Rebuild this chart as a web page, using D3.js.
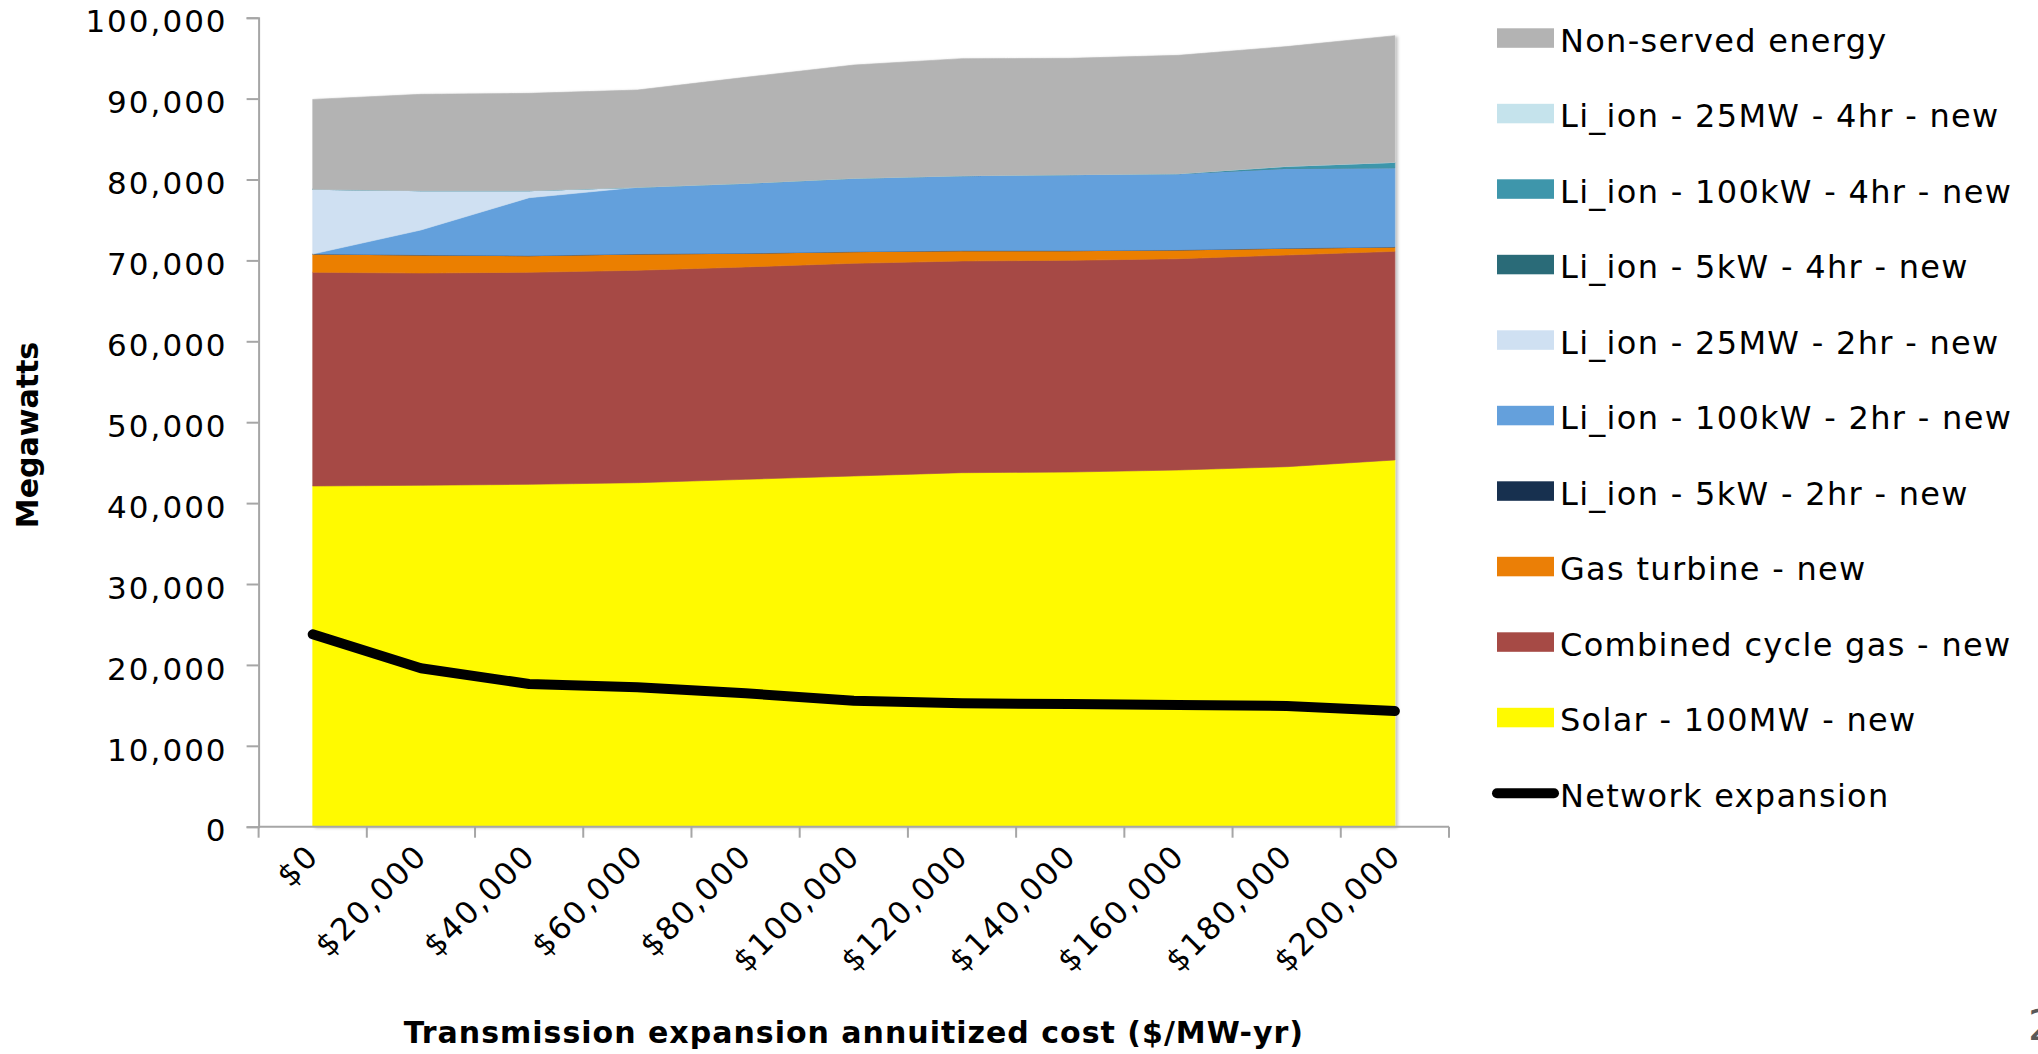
<!DOCTYPE html>
<html>
<head>
<meta charset="utf-8">
<script src="https://cdn.jsdelivr.net/npm/d3@7"></script>
<style>
  html, body { margin: 0; padding: 0; background: #ffffff; }
  svg { display: block; }
  text { font-family: "DejaVu Sans", sans-serif; fill: #000; }
</style>
</head>
<body>
<svg id="chart" width="2038" height="1054"></svg>
<script>
// ---------------- data ----------------
const categories = ["$0", "$20,000", "$40,000", "$60,000", "$80,000", "$100,000",
                    "$120,000", "$140,000", "$160,000", "$180,000", "$200,000"];
const yTicks = [0, 10000, 20000, 30000, 40000, 50000, 60000, 70000, 80000, 90000, 100000];

const solar100MW   = [42110, 42200, 42320, 42520, 42940, 43350, 43760, 43840, 44090, 44500, 45330];
const combinedCycle = [26420, 26240, 26210, 26260, 26250, 26290, 26170, 26170, 26120, 26170, 25790];
const gasTurbine   = [2260, 2230, 2050, 2010, 1690, 1440, 1270, 1190, 1080, 830, 540];
const li5kW2hr     = [0, 0, 0, 0, 0, 0, 0, 0, 0, 0, 0];
const li100kW2hr   = [0, 3090, 7170, 8250, 8650, 9070, 9270, 9400, 9430, 9880, 9800];
const li25MW2hr    = [8000, 4860, 870, 0, 0, 0, 0, 0, 0, 0, 0];
const li5kW4hr     = [0, 0, 0, 0, 0, 0, 0, 0, 0, 0, 0];
const li100kW4hr   = [0, 0, 0, 0, 0, 0, 0, 0, 0, 250, 660];
const li25MW4hr    = [0, 0, 0, 0, 0, 0, 0, 0, 0, 0, 0];
const nonServed    = [11110, 11910, 12030, 12020, 13100, 14000, 14470, 14380, 14630, 14800, 15660];
const networkExpansion = [23780, 19580, 17640, 17230, 16490, 15580, 15250, 15170, 15040, 14920, 14300];

// series definitions (stack order bottom -> top)
const seriesNames = ["Solar - 100MW - new", "Combined cycle gas - new", "Gas turbine - new",
  "Li_ion - 5kW - 2hr - new", "Li_ion - 100kW - 2hr - new", "Li_ion - 25MW - 2hr - new",
  "Li_ion - 5kW - 4hr - new", "Li_ion - 100kW - 4hr - new", "Li_ion - 25MW - 4hr - new",
  "Non-served energy"];
const seriesValues = [solar100MW, combinedCycle, gasTurbine, li5kW2hr, li100kW2hr, li25MW2hr,
  li5kW4hr, li100kW4hr, li25MW4hr, nonServed];
const seriesColors = ["#fffa00", "#a64a45", "#eb7f06", "#17304f", "#64a0dc", "#cfe0f2",
  "#2a6b78", "#3e96ab", "#c5e3ec", "#b3b3b3"];
const lineName = "Network expansion";

// ---------------- layout ----------------
const svg = d3.select("#chart");
svg.append("rect").attr("width", 2038).attr("height", 1054).attr("fill", "#fff");

const plot = { left: 258.6, right: 1449, top: 17.7, bottom: 826.7 };

const x = d3.scaleBand().domain(categories).range([plot.left, plot.right]).padding(0);
const xc = c => x(c) + x.bandwidth() / 2;
const y = d3.scaleLinear().domain([0, 100000]).range([plot.bottom, plot.top]);

const rows = categories.map((c, i) => {
  const r = { cat: c };
  seriesNames.forEach((n, k) => { r[n] = seriesValues[k][i]; });
  return r;
});
const stacked = d3.stack().keys(seriesNames)(rows);

// shadow filter
const defs = svg.append("defs");
const f = defs.append("filter").attr("id", "shadow").attr("x", "-5%").attr("y", "-5%")
  .attr("width", "110%").attr("height", "110%");
f.append("feDropShadow").attr("dx", 2.5).attr("dy", 1).attr("stdDeviation", 1.5)
  .attr("flood-color", "#000").attr("flood-opacity", 0.25);

const area = d3.area()
  .x(d => xc(d.data.cat))
  .y0(d => y(d[0]))
  .y1(d => y(d[1]));

const gArea = svg.append("g").attr("filter", "url(#shadow)");
gArea.selectAll("path").data(stacked).join("path")
  .attr("d", area)
  .attr("fill", (d, i) => seriesColors[i])
  .attr("stroke", (d, i) => seriesColors[i])
  .attr("stroke-width", 0.6);

// ---------------- axes ----------------
const axisColor = "#a6a6a6";
const gy = svg.append("g").attr("transform", `translate(${plot.left},0)`)
  .call(d3.axisLeft(y).tickValues(yTicks).tickSize(12).tickPadding(21).tickFormat(d3.format(",")));
gy.select(".domain").attr("stroke", axisColor).attr("stroke-width", 2);
gy.selectAll(".tick line").attr("stroke", axisColor).attr("stroke-width", 2);
gy.selectAll(".tick text")
  .attr("font-family", "DejaVu Sans").attr("font-size", 31).attr("letter-spacing", "2px")
  .attr("fill", "#000").attr("dy", "0.46em").attr("dx", 2);

// x axis line and boundary ticks
const gx = svg.append("g");
gx.append("line").attr("x1", plot.left).attr("x2", plot.right)
  .attr("y1", plot.bottom).attr("y2", plot.bottom)
  .attr("stroke", axisColor).attr("stroke-width", 2);
const bounds = categories.map(c => x(c)).concat([x(categories[categories.length - 1]) + x.bandwidth()]);
gx.selectAll("line.t").data(bounds).join("line").attr("class", "t")
  .attr("x1", d => d).attr("x2", d => d)
  .attr("y1", plot.bottom).attr("y2", plot.bottom + 11)
  .attr("stroke", axisColor).attr("stroke-width", 2);
gx.selectAll("text").data(categories).join("text")
  .attr("transform", c => `translate(${xc(c) + 8},${plot.bottom + 31}) rotate(-45)`)
  .attr("text-anchor", "end")
  .attr("font-size", 31).attr("letter-spacing", "2px")
  .text(c => c);

// network expansion line
const line = d3.line().x((d, i) => xc(categories[i])).y(d => y(d));
svg.append("path").datum(networkExpansion)
  .attr("d", line).attr("fill", "none").attr("stroke", "#000")
  .attr("stroke-width", 10).attr("stroke-linecap", "round").attr("stroke-linejoin", "round");

// axis titles
svg.append("text").attr("x", (plot.left + plot.right) / 2).attr("y", 1043)
  .attr("text-anchor", "middle").attr("font-weight", "bold").attr("font-size", 30)
  .attr("letter-spacing", "1px")
  .text("Transmission expansion annuitized cost ($/MW-yr)");
svg.append("text").attr("transform", "translate(38,435) rotate(-90)")
  .attr("text-anchor", "middle").attr("font-weight", "bold").attr("font-size", 30)
  .text("Megawatts");

// ---------------- legend ----------------
const legendItems = seriesNames.map((n, i) => ({ name: n, color: seriesColors[i], type: "area" }))
  .reverse().concat([{ name: lineName, color: "#000", type: "line" }]);
const lg = svg.append("g").attr("transform", "translate(1497,28.3)");
const li = lg.selectAll("g").data(legendItems).join("g")
  .attr("transform", (d, i) => `translate(0,${i * 75.5})`);
li.filter(d => d.type === "area").append("rect")
  .attr("width", 57).attr("height", 19.5).attr("fill", d => d.color);
li.filter(d => d.type === "line").append("line")
  .attr("x1", 0).attr("x2", 57).attr("y1", 10).attr("y2", 10)
  .attr("stroke", "#000").attr("stroke-width", 10).attr("stroke-linecap", "round");
li.append("text").attr("x", 63).attr("y", 23.4)
  .attr("font-size", 32).attr("letter-spacing", "1.3px")
  .text(d => d.name);

// page number (partly cut off at the edge, as in the reference)
svg.append("text").attr("x", 2028).attr("y", 1040).attr("font-size", 42)
  .attr("fill", "#595959").style("fill", "#595959").text("2");
</script>
</body>
</html>
